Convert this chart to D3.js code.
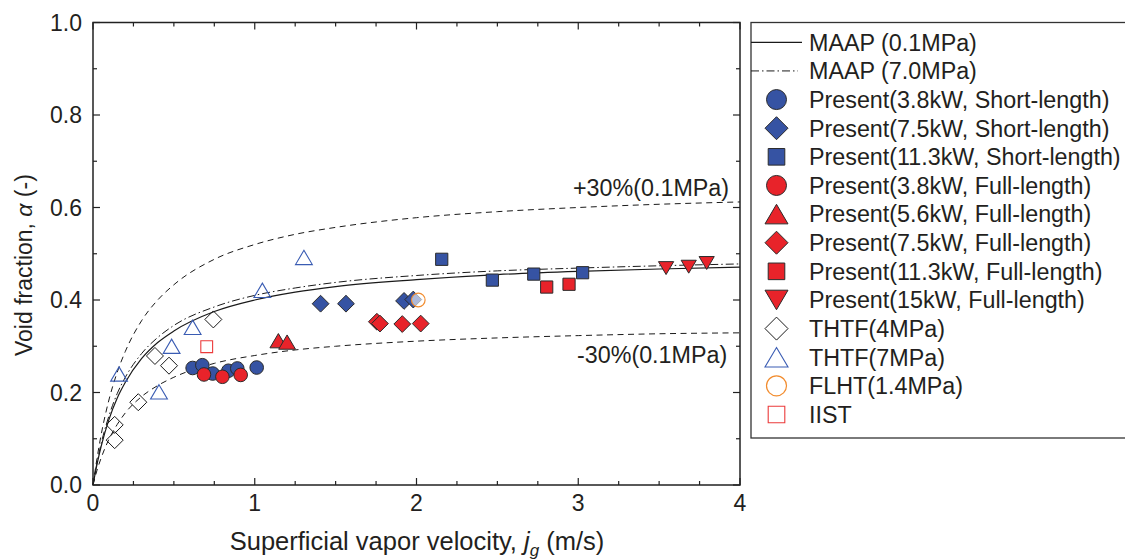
<!DOCTYPE html>
<html><head><meta charset="utf-8">
<script src="https://cdn.jsdelivr.net/npm/d3@7"></script>
<style>body{margin:0;background:#fff}svg{display:block}text{font-family:"Liberation Sans",Arial,sans-serif;fill:#231f20}</style>
</head><body><svg id="c" width="1125" height="560"></svg>
<script>
// ---- data ----
const xTicks = [0, 1, 2, 3, 4];
const yTicks = [0.0, 0.2, 0.4, 0.6, 0.8, 1.0];
const curveJ   = [0, 0.025, 0.05, 0.1, 0.15, 0.2, 0.3, 0.4, 0.5, 0.75, 1, 1.25, 1.5, 2, 2.5, 3, 3.5, 4];
const maap01   = [0, 0.045, 0.083, 0.143, 0.188, 0.222, 0.273, 0.308, 0.333, 0.375, 0.400, 0.417, 0.429, 0.444, 0.455, 0.462, 0.467, 0.471];
const maap70   = [0, 0.049, 0.089, 0.151, 0.198, 0.233, 0.284, 0.319, 0.345, 0.385, 0.410, 0.426, 0.438, 0.453, 0.463, 0.469, 0.474, 0.478];
const plus30   = [0, 0.058, 0.108, 0.186, 0.244, 0.289, 0.355, 0.400, 0.433, 0.488, 0.520, 0.542, 0.557, 0.578, 0.591, 0.600, 0.607, 0.612];
const minus30  = [0, 0.032, 0.058, 0.100, 0.131, 0.156, 0.191, 0.215, 0.233, 0.263, 0.280, 0.292, 0.300, 0.311, 0.318, 0.323, 0.327, 0.329];

const s38shortJ = [0.616, 0.676, 0.740, 0.837, 0.892, 1.012];
const s38shortA = [0.253, 0.259, 0.241, 0.247, 0.252, 0.254];
const s75shortJ = [1.407, 1.564, 1.923, 1.980];
const s75shortA = [0.392, 0.392, 0.398, 0.401];
const s113shortJ = [2.156, 2.469, 2.725, 3.027];
const s113shortA = [0.488, 0.443, 0.456, 0.459];
const s38fullJ = [0.686, 0.800, 0.913];
const s38fullA = [0.239, 0.234, 0.238];
const s56fullJ = [1.146, 1.200];
const s56fullA = [0.312, 0.309];
const s75fullJ = [1.755, 1.774, 1.912, 2.026];
const s75fullA = [0.353, 0.349, 0.348, 0.349];
const s113fullJ = [2.805, 2.943];
const s113fullA = [0.428, 0.434];
const s15fullJ = [3.543, 3.683, 3.794];
const s15fullA = [0.469, 0.472, 0.480];
const thtf4J = [0.134, 0.134, 0.280, 0.383, 0.470, 0.744];
const thtf4A = [0.097, 0.130, 0.179, 0.279, 0.258, 0.358];
const thtf7J = [0.161, 0.408, 0.486, 0.616, 1.047, 1.304];
const thtf7A = [0.240, 0.2015, 0.300, 0.341, 0.421, 0.492];
const flhtJ = [2.011];
const flhtA = [0.400];
const iistJ = [0.703];
const iistA = [0.299];

const legendLabels = ["MAAP (0.1MPa)", "MAAP (7.0MPa)",
  "Present(3.8kW, Short-length)", "Present(7.5kW, Short-length)", "Present(11.3kW, Short-length)",
  "Present(3.8kW, Full-length)", "Present(5.6kW, Full-length)", "Present(7.5kW, Full-length)",
  "Present(11.3kW, Full-length)", "Present(15kW, Full-length)",
  "THTF(4MPa)", "THTF(7MPa)", "FLHT(1.4MPa)", "IIST"];

// ---- drawing ----
const svg = d3.select("#c");
const L = 93, R = 740, T = 22.5, B = 485;
const x = d3.scaleLinear().domain([0, 4]).range([L, R]);
const y = d3.scaleLinear().domain([0, 1]).range([B, T]);

const BLUE = "#3653a3", RED = "#e8232a", EDGE = "#2b2b2b";

// symbol types: size = half-width
const shapes = {
  circle: {draw(c, s){ c.moveTo(s, 0); c.arc(0, 0, s, 0, 2*Math.PI); c.closePath(); }},
  square: {draw(c, s){ c.rect(-s, -s, 2*s, 2*s); }},
  diamond: {draw(c, s){ c.moveTo(0, -s); c.lineTo(s, 0); c.lineTo(0, s); c.lineTo(-s, 0); c.closePath(); }},
  up: {draw(c, s){ const h = s*0.85; c.moveTo(0, -h); c.lineTo(s, h); c.lineTo(-s, h); c.closePath(); }},
  down: {draw(c, s){ const h = s*0.85; c.moveTo(0, h); c.lineTo(s, -h); c.lineTo(-s, -h); c.closePath(); }}
};

const series = [
  {J: s38shortJ, A: s38shortA, shape: "circle", size: 6.8, fill: BLUE, stroke: EDGE, sw: 1, leg: 10},
  {J: s75shortJ, A: s75shortA, shape: "diamond", size: 8.4, fill: BLUE, stroke: EDGE, sw: 1, leg: 11.5},
  {J: s113shortJ, A: s113shortA, shape: "square", size: 6.1, fill: BLUE, stroke: EDGE, sw: 1, leg: 8.3},
  {J: s38fullJ, A: s38fullA, shape: "circle", size: 6.8, fill: RED, stroke: EDGE, sw: 1, leg: 10},
  {J: s56fullJ, A: s56fullA, shape: "up", size: 8.4, fill: RED, stroke: EDGE, sw: 1, leg: 11.5},
  {J: s75fullJ, A: s75fullA, shape: "diamond", size: 8.4, fill: RED, stroke: EDGE, sw: 1, leg: 11.5},
  {J: s113fullJ, A: s113fullA, shape: "square", size: 6.1, fill: RED, stroke: EDGE, sw: 1, leg: 8.3},
  {J: s15fullJ, A: s15fullA, shape: "down", size: 7.6, fill: RED, stroke: EDGE, sw: 1, leg: 11.5},
  {J: thtf4J, A: thtf4A, shape: "diamond", size: 8.5, fill: "none", stroke: "#1a1a1a", sw: 1, leg: 11.5},
  {J: thtf7J, A: thtf7A, shape: "up", size: 8.4, fill: "none", stroke: "#3a5cb3", sw: 1.1, leg: 11.5},
  {J: flhtJ, A: flhtA, shape: "circle", size: 6.8, fill: "none", stroke: "#f28c2e", sw: 1.2, leg: 10},
  {J: iistJ, A: iistA, shape: "square", size: 5.9, fill: "none", stroke: "#ec3b3b", sw: 1.1, leg: 8.3}
];

// curves
const line = d3.line().x(d => x(d[0])).y(d => y(d[1])).curve(d3.curveMonotoneX);
const curves = [
  {v: plus30, dash: "6,4.5", w: 1},
  {v: minus30, dash: "6,4.5", w: 1},
  {v: maap70, dash: "8,3,1.5,3", w: 1},
  {v: maap01, dash: null, w: 1.2}
];
curves.forEach(cv => {
  svg.append("path").attr("d", line(curveJ.map((j, i) => [j, cv.v[i]])))
    .attr("fill", "none").attr("stroke", "#1a1a1a").attr("stroke-width", cv.w)
    .attr("stroke-dasharray", cv.dash);
});

// markers (later series on top)
const drawOrder = [8, 9, 11, 0, 3, 4, 1, 5, 2, 6, 7];
drawOrder.forEach(k => {
  const s = series[k];
  const sym = d3.symbol().type(shapes[s.shape]).size(s.size);
  s.J.forEach((j, i) => {
    svg.append("path").attr("d", sym()).attr("transform", `translate(${x(j)},${y(s.A[i])})`)
      .attr("fill", s.fill).attr("stroke", s.stroke).attr("stroke-width", s.sw);
  });
});
// FLHT circle on top of blue diamond
{
  const s = series[10];
  s.J.forEach((j, i) => svg.append("path").attr("d", d3.symbol().type(shapes.circle).size(s.size)())
    .attr("transform", `translate(${x(j)},${y(s.A[i])})`).attr("fill", "#fff").attr("fill-opacity", 0.6)
    .attr("stroke", s.stroke).attr("stroke-width", s.sw));
}

// frame
svg.append("rect").attr("x", L).attr("y", T).attr("width", R - L).attr("height", B - T)
  .attr("fill", "none").attr("stroke", "#222").attr("stroke-width", 1.5);

// ticks (inward, all four sides)
const g = svg.append("g").attr("stroke", "#222").attr("stroke-width", 1.2);
d3.range(0, 4.001, 0.25).forEach(v => {
  const major = Math.abs(v - Math.round(v)) < 1e-6;
  const len = major ? 7 : 4;
  g.append("line").attr("x1", x(v)).attr("x2", x(v)).attr("y1", B).attr("y2", B - len);
  g.append("line").attr("x1", x(v)).attr("x2", x(v)).attr("y1", T).attr("y2", T + len);
});
d3.range(0, 1.0001, 0.1).forEach(v => {
  const major = Math.abs(v * 5 - Math.round(v * 5)) < 1e-6;
  const len = major ? 7 : 4;
  g.append("line").attr("y1", y(v)).attr("y2", y(v)).attr("x1", L).attr("x2", L + len);
  g.append("line").attr("y1", y(v)).attr("y2", y(v)).attr("x1", R).attr("x2", R - len);
});

// tick labels
const fmt = d3.format(".1f");
yTicks.forEach(v => svg.append("text").attr("x", 82).attr("y", y(v)).attr("dy", "0.36em")
  .attr("text-anchor", "end").attr("font-size", 23).text(fmt(v)));
xTicks.forEach(v => svg.append("text").attr("x", x(v)).attr("y", 511)
  .attr("text-anchor", "middle").attr("font-size", 23).text(v));

// axis titles
const xt = svg.append("text").attr("x", 417).attr("y", 550).attr("text-anchor", "middle").attr("font-size", 25.5);
xt.append("tspan").text("Superficial vapor velocity, ");
xt.append("tspan").attr("font-style", "italic").text("j");
xt.append("tspan").attr("font-style", "italic").attr("font-size", 17).attr("dy", 6).text("g");
xt.append("tspan").attr("dy", -6).text(" (m/s)");

const yt = svg.append("text").attr("transform", "translate(32,356) rotate(-90)").attr("text-anchor", "start").attr("font-size", 23);
yt.append("tspan").text("Void fraction, ");
yt.append("tspan").attr("font-style", "italic").text("α");
yt.append("tspan").text(" (-)");

// annotations
svg.append("text").attr("x", 573).attr("y", 196).attr("font-size", 23.3).text("+30%(0.1MPa)");
svg.append("text").attr("x", 577).attr("y", 363).attr("font-size", 23.3).text("-30%(0.1MPa)");

// legend
svg.append("rect").attr("x", 751).attr("y", 22.5).attr("width", 400).attr("height", 415.5)
  .attr("fill", "#fff").attr("stroke", "#333").attr("stroke-width", 1.3);
const ly = d3.scaleLinear().domain([0, 13]).range([42.3, 414.5]);
const lx = 776.5;
legendLabels.forEach((lab, i) => {
  svg.append("text").attr("x", 809).attr("y", ly(i)).attr("dy", "0.36em").attr("font-size", 23.3).text(lab);
});
svg.append("line").attr("x1", 751).attr("x2", 802).attr("y1", ly(0)).attr("y2", ly(0)).attr("stroke", "#1a1a1a").attr("stroke-width", 1.2);
svg.append("line").attr("x1", 751).attr("x2", 798).attr("y1", ly(1)).attr("y2", ly(1)).attr("stroke", "#1a1a1a").attr("stroke-width", 1).attr("stroke-dasharray", "8,3,1.5,3");
series.forEach((s, k) => {
  const sym = d3.symbol().type(shapes[s.shape]).size(s.leg);
  svg.append("path").attr("d", sym()).attr("transform", `translate(${lx},${ly(k + 2)})`)
    .attr("fill", s.fill).attr("stroke", s.stroke).attr("stroke-width", s.sw);
});
</script></body></html>
